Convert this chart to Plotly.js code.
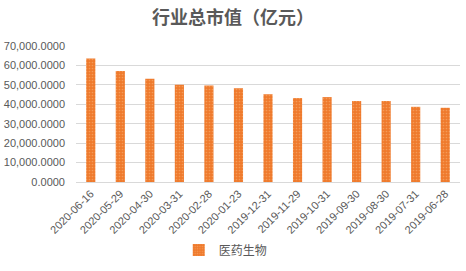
<!DOCTYPE html>
<html>
<head>
<meta charset="utf-8">
<script src="https://cdn.plot.ly/plotly-3.0.1.min.js"></script>
<style>html,body{margin:0;padding:0;background:#fff;}#chart{width:466px;height:271px;}</style>
</head>
<body>
<div id="chart"></div>
<script>
const categories = ["2020-06-16","2020-05-29","2020-04-30","2020-03-31","2020-02-28","2020-01-23","2019-12-31","2019-11-29","2019-10-31","2019-09-30","2019-08-30","2019-07-31","2019-06-28"];
const values = [63550, 57100, 53100, 50100, 49650, 48250, 45200, 43200, 43700, 41700, 41700, 38700, 38200];
const seriesName = "医药生物";
const titleText = "行业总市值（亿元）";
const yTicks = [0, 10000, 20000, 30000, 40000, 50000, 60000, 70000];

const fontFam = "'Liberation Sans', Arial, 'Noto Sans CJK SC', sans-serif";
const cjkFam = "'Noto Sans CJK SC', sans-serif";
const trace = {
  type: 'bar',
  x: categories,
  y: values,
  name: seriesName,
  marker: {
    color: '#F07C2E',
    pattern: {shape: '.', fgcolor: '#F59A57', bgcolor: '#EF7A2C', size: 3, solidity: 0.25}
  },
  showlegend: true
};
const layout = {
  width: 466, height: 271,
  margin: {l: 76, r: 6, t: 46, b: 84},
  paper_bgcolor: '#ffffff', plot_bgcolor: '#ffffff',
  title: {text: '<b>' + titleText + '</b>', x: 0.5, xanchor: 'center', y: 0.935, yanchor: 'middle',
          font: {family: cjkFam, size: 18, color: '#595959'}, automargin: false},
  bargap: 0.69,
  xaxis: {type: 'category', tickangle: -45, tickfont: {family: fontFam, size: 11, color: '#595959'},
          showgrid: false, showline: true, linecolor: '#d9d9d9', ticks: '', automargin: false},
  yaxis: {range: [0, 70000], tickvals: yTicks, tickformat: ',.4f', tickfont: {family: fontFam, size: 11, color: '#595959'},
          gridcolor: '#d9d9d9', gridwidth: 1, zeroline: false, showline: false, ticks: '',
          ticklabelstandoff: 10, automargin: false},
  legend: {orientation: 'h', x: 0.39, xanchor: 'center', y: -0.5, yanchor: 'middle',
           font: {family: cjkFam, size: 12, color: '#595959'}}
};
Plotly.newPlot('chart', [trace], layout, {displayModeBar: false, staticPlot: true});
</script>
</body>
</html>
